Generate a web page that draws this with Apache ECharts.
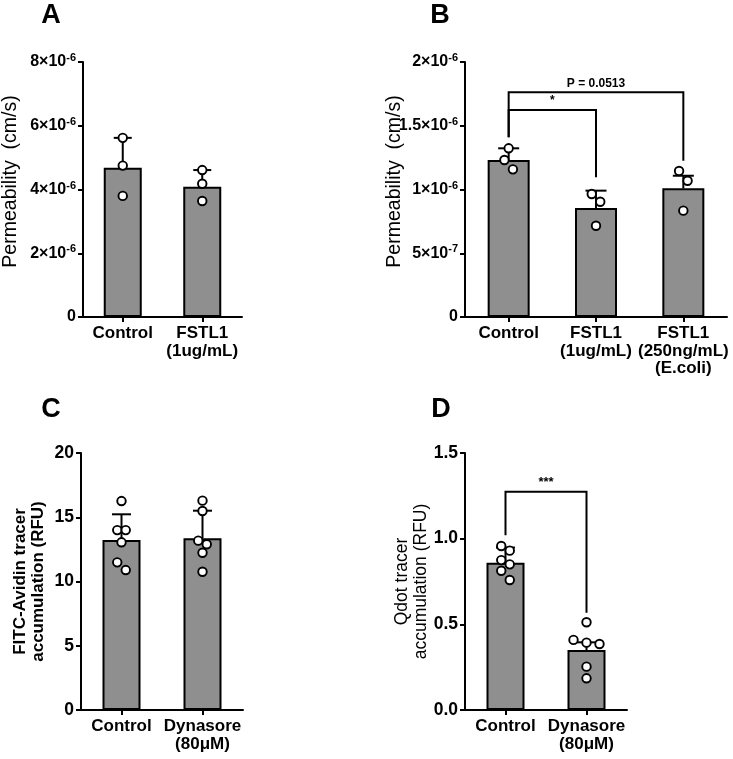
<!DOCTYPE html>
<html><head><meta charset="utf-8">
<script src="https://cdn.jsdelivr.net/npm/echarts@6/dist/echarts.min.js"></script>
<style>html,body{margin:0;padding:0;background:#fff}#c{width:733px;height:759px}</style>
</head><body><div id="c"></div><script>
// ---------- data ----------
const catsA = ['Control', 'FSTL1\n(1ug/mL)'];
const meanA = [4.68e-6, 4.09e-6];
const errA  = [0.94e-6, 0.52e-6];
const ptsA  = [[5.62e-6, 4.75e-6, 3.80e-6], [4.61e-6, 4.18e-6, 3.64e-6]];
const ticksA = [0, 2e-6, 4e-6, 6e-6, 8e-6];

const catsB = ['Control', 'FSTL1\n(1ug/mL)', 'FSTL1\n(250ng/mL)\n(E.coli)'];
const meanB = [1.231e-6, 0.855e-6, 1.009e-6];
const errB  = [0.092e-6, 0.136e-6, 0.099e-6];
const ptsB  = [[1.323e-6, 1.231e-6, 1.158e-6], [0.965e-6, 0.904e-6, 0.716e-6], [1.145e-6, 1.069e-6, 0.834e-6]];
const ticksB = [0, 5e-7, 1e-6, 1.5e-6, 2e-6];
const sigB = [[0, 1, 1.624e-6, 1.409e-6, 1.096e-6], [0, 2, 1.762e-6, 1.409e-6, 1.226e-6]];
const sigTextB = ['*', 'P = 0.0513'];

const catsC = ['Control', 'Dynasore\n(80\u03bcM)'];
const meanC = [13.23, 13.36];
const errC  = [2.0, 2.15];
const ptsC  = [[16.26, 14.0, 14.0, 13.05, 11.49, 10.89], [16.29, 15.49, 13.18, 12.90, 12.24, 10.76]];
const ticksC = [0, 5, 10, 15, 20];

const catsD = ['Control', 'Dynasore\n(80\u03bcM)'];
const meanD = [0.860, 0.350];
const errD  = [0.088, 0.045];
const ptsD  = [[0.957, 0.930, 0.875, 0.850, 0.813, 0.759], [0.512, 0.409, 0.393, 0.385, 0.253, 0.185]];
const ticksD = [0, 0.5, 1.0, 1.5];
const sigD = [[0, 1, 1.274, 1.02, 0.568]];
const sigTextD = ['***'];

// ---------- helpers ----------
const FF = 'Liberation Sans, Arial, Helvetica, sans-serif';
const BLACK = '#000';
const GRAY = '#8f8f8f';
const LW = 2;

const grids = [
  {left: 80, top: 62, width: 162, height: 255},
  {left: 465, top: 62, width: 262, height: 255},
  {left: 81, top: 453, width: 162, height: 257},
  {left: 465, top: 453, width: 162, height: 257}
];

// Prism-like horizontal spreading of points with similar values (rows)
function swarm(vals, pxPerUnit) {
  const idx = vals.map((v, i) => i).sort((a, b) => vals[b] - vals[a]);
  const off = new Array(vals.length).fill(0);
  const rows = [];
  let cur = [idx[0]];
  for (let k = 1; k < idx.length; k++) {
    if ((vals[cur[0]] - vals[idx[k]]) * pxPerUnit < 10) cur.push(idx[k]);
    else { rows.push(cur); cur = [idx[k]]; }
  }
  rows.push(cur);
  rows.forEach(r => {
    const n = r.length;
    const s = n >= 3 ? 13 : 8.5;
    r.forEach((i, k) => { off[i] = (k - (n - 1) / 2) * s; });
  });
  return off;
}

function sci(v) {
  if (Math.abs(v) < 1e-15) return '{b|0}';
  const e = Math.floor(Math.log10(v) + 1e-9);
  const m = Math.round(v / Math.pow(10, e) * 10) / 10;
  return '{b|' + m + '\u00d710}{s|' + e + '}';
}

function yAxisCfg(gi, ticks, name, opts) {
  return {
    type: 'value', gridIndex: gi, min: ticks[0], max: ticks[ticks.length - 1],
    interval: ticks[1] - ticks[0],
    axisLine: {show: true, lineStyle: {color: BLACK, width: LW}},
    axisTick: {show: true, length: 5, lineStyle: {color: BLACK, width: LW}},
    splitLine: {show: false},
    axisLabel: opts.labelCfg,
    name: name, nameLocation: 'middle', nameGap: opts.nameGap, nameRotate: 90,
    nameMoveOverlap: false,
    nameTextStyle: opts.nameStyle
  };
}

function xAxisCfg(gi, cats) {
  return {
    type: 'category', gridIndex: gi, data: cats,
    axisLine: {show: true, lineStyle: {color: BLACK, width: LW}},
    axisTick: {show: true, alignWithLabel: true, length: 5, lineStyle: {color: BLACK, width: LW}},
    axisLabel: {interval: 0, margin: 8, color: BLACK, fontFamily: FF, fontWeight: 'bold', fontSize: 17, lineHeight: 17.5}
  };
}

const sciLabel = {
  margin: 7, color: BLACK,
  formatter: v => sci(v),
  rich: {
    b: {fontFamily: FF, fontWeight: 'bold', fontSize: 16, color: BLACK, lineHeight: 19},
    s: {fontFamily: FF, fontWeight: 'bold', fontSize: 11, color: BLACK, lineHeight: 12, verticalAlign: 'top'}
  }
};
const plainLabel = (dec) => ({
  margin: 7, color: BLACK, fontFamily: FF, fontWeight: 'bold', fontSize: 17.5,
  formatter: v => dec ? v.toFixed(dec) : String(Math.round(v))
});

function errRender(capW) {
  return function (params, api) {
    const x = api.value(0), m = api.value(1), s = api.value(2);
    const p0 = api.coord([x, m]), p1 = api.coord([x, m + s]);
    return {type: 'group', children: [
      {type: 'line', shape: {x1: p0[0], y1: p0[1], x2: p1[0], y2: p1[1]}, style: {stroke: BLACK, lineWidth: LW}},
      {type: 'line', shape: {x1: p1[0] - capW / 2, y1: p1[1], x2: p1[0] + capW / 2, y2: p1[1]}, style: {stroke: BLACK, lineWidth: LW}}
    ]};
  };
}

function sigRender(texts, fontSize) {
  return function (params, api) {
    const a = api.value(0), b = api.value(1), top = api.value(2), lb = api.value(3), rb = api.value(4);
    const pTL = api.coord([a, top]), pTR = api.coord([b, top]);
    const pLB = api.coord([a, lb]), pRB = api.coord([b, rb]);
    return {type: 'group', children: [
      {type: 'polyline', shape: {points: [pLB, pTL, pTR, pRB]}, style: {stroke: BLACK, lineWidth: LW, fill: null}},
      {type: 'text', x: (pTL[0] + pTR[0]) / 2, y: pTL[1] - 3,
       style: {text: texts[params.dataIndex], textAlign: 'center', textVerticalAlign: 'bottom',
               font: 'bold ' + fontSize + 'px ' + FF, fill: BLACK}}
    ]};
  };
}

const series = [];
function addPanel(gi, means, errs, pts, barW, capW, pxPerUnit) {
  series.push({type: 'bar', xAxisIndex: gi, yAxisIndex: gi, data: means, barWidth: barW,
    itemStyle: {color: GRAY, borderColor: BLACK, borderWidth: LW}, z: 2, silent: true});
  series.push({type: 'custom', xAxisIndex: gi, yAxisIndex: gi, renderItem: errRender(capW),
    encode: {x: 0, y: 1}, data: means.map((m, i) => [i, m, errs[i]]), z: 3, silent: true});
  const sdata = [];
  pts.forEach((arr, ci) => {
    const off = swarm(arr, pxPerUnit);
    arr.forEach((v, k) => sdata.push({value: [ci, v], symbolOffset: [off[k], 0]}));
  });
  series.push({type: 'scatter', xAxisIndex: gi, yAxisIndex: gi, data: sdata, symbol: 'circle', symbolSize: 8.5,
    itemStyle: {color: '#fff', borderColor: BLACK, borderWidth: 1.9, opacity: 1}, z: 4, silent: true});
}

addPanel(0, meanA, errA, ptsA, 38, 18, grids[0].height / (ticksA[4] - ticksA[0]));
addPanel(1, meanB, errB, ptsB, 42, 21, grids[1].height / (ticksB[4] - ticksB[0]));
addPanel(2, meanC, errC, ptsC, 38, 19, grids[2].height / (ticksC[4] - ticksC[0]));
addPanel(3, meanD, errD, ptsD, 38, 19, grids[3].height / (ticksD[3] - ticksD[0]));

series.push({type: 'custom', xAxisIndex: 1, yAxisIndex: 1, renderItem: sigRender(sigTextB, 12),
  encode: {x: [0, 1], y: [2, 3, 4]}, data: sigB, z: 5, silent: true});
series.push({type: 'custom', xAxisIndex: 3, yAxisIndex: 3, renderItem: sigRender(sigTextD, 13),
  encode: {x: [0, 1], y: [2, 3, 4]}, data: sigD, z: 5, silent: true});

const permName = {fontFamily: FF, fontSize: 19.5, color: BLACK, padding: [0, 0, 0, 16]};
const option = {
  animation: false,
  backgroundColor: '#fff',
  grid: grids,
  xAxis: [xAxisCfg(0, catsA), xAxisCfg(1, catsB), xAxisCfg(2, catsC), xAxisCfg(3, catsD)],
  yAxis: [
    yAxisCfg(0, ticksA, 'Permeability  (cm/s)', {labelCfg: sciLabel, nameGap: 62, nameStyle: permName}),
    yAxisCfg(1, ticksB, 'Permeability  (cm/s)', {labelCfg: sciLabel, nameGap: 60, nameStyle: permName}),
    yAxisCfg(2, ticksC, 'FITC-Avidin tracer\naccumulation (RFU)',
      {labelCfg: plainLabel(0), nameGap: 34, nameStyle: {fontFamily: FF, fontSize: 17, fontWeight: 'bold', color: BLACK, lineHeight: 18}}),
    yAxisCfg(3, ticksD, 'Qdot tracer\naccumulation (RFU)',
      {labelCfg: plainLabel(1), nameGap: 34, nameStyle: {fontFamily: FF, fontSize: 17.5, color: BLACK, lineHeight: 19}})
  ],
  graphic: [
    {type: 'text', x: 51, y: 16, style: {text: 'A', font: 'bold 27px ' + FF, fill: BLACK, textAlign: 'center', textVerticalAlign: 'middle'}},
    {type: 'text', x: 440, y: 16, style: {text: 'B', font: 'bold 27px ' + FF, fill: BLACK, textAlign: 'center', textVerticalAlign: 'middle'}},
    {type: 'text', x: 51, y: 410, style: {text: 'C', font: 'bold 27px ' + FF, fill: BLACK, textAlign: 'center', textVerticalAlign: 'middle'}},
    {type: 'text', x: 441, y: 410, style: {text: 'D', font: 'bold 27px ' + FF, fill: BLACK, textAlign: 'center', textVerticalAlign: 'middle'}}
  ],
  series: series
};
const chart = echarts.init(document.getElementById('c'), null, {renderer: 'canvas'});
chart.setOption(option);
</script></body></html>
